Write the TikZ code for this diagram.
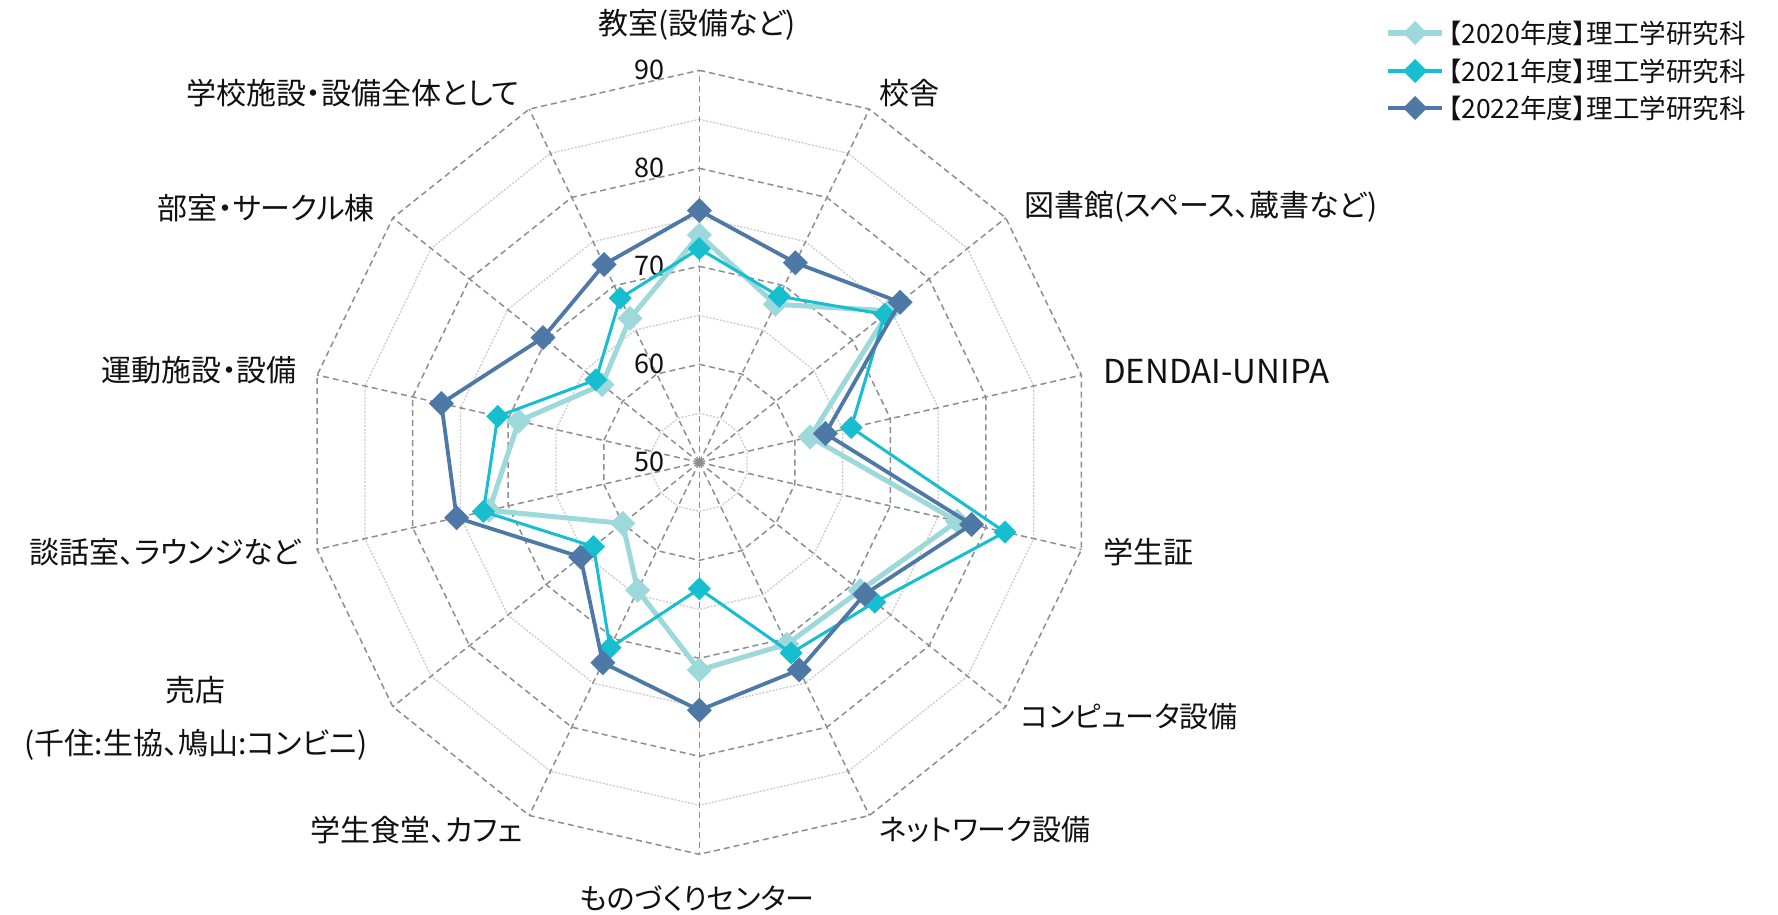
\documentclass[tikz,border=0pt]{standalone}
\usepackage{fontspec}
\setmainfont{Noto Sans CJK JP}[RawFeature={+palt}]
\usetikzlibrary{calc}
\definecolor{cA}{HTML}{9DD9DB}
\definecolor{cB}{HTML}{17BECF}
\definecolor{cC}{HTML}{4E79A7}
\definecolor{gridmaj}{HTML}{8E8E8E}
\definecolor{gridmin}{HTML}{CCCCCC}
\definecolor{txt}{HTML}{111111}
\newcommand\mydia[3]{\fill[#1] (#2) +(0,-#3) -- +(#3,0) -- +(0,#3) -- +(-#3,0) -- cycle;}
\begin{document}
\begin{tikzpicture}[x=1pt,y=-1pt,
  majgrid/.style={draw=gridmaj, line width=1.5pt, dash pattern=on 6pt off 4pt},
  mingrid/.style={draw=gridmin, line width=1.3pt, dash pattern=on 2pt off 1.5pt},
  lab/.style={text=txt, font=\fontsize{30}{34}\selectfont, inner sep=0pt},
  numlab/.style={text=txt, font=\fontsize{27}{30}\selectfont, inner sep=0pt, anchor=east},
  leglab/.style={text=txt, font=\fontsize{26.5}{30}\selectfont, inner sep=0pt, anchor=west},
  serA/.style={draw=cA, line width=5pt, line join=round},
  serB/.style={draw=cB, line width=3pt, line join=round},
  serC/.style={draw=cC, line width=3.8pt, line join=round}]
\fill[white] (0,0) rectangle (1778,914);
\useasboundingbox (0,0) rectangle (1778,914);
\coordinate (C) at (699.3,462.3);
\foreach \k in {0,...,13}{
  \coordinate (ax\k) at ($(C)+({-90+\k*360/14}:392)$);
}
% minor rings
\foreach \v in {55,65,75,85}{
  \draw[mingrid] ($(C)!{(\v-50)/40}!(ax0)$) \foreach \k in {1,...,13}{ -- ($(C)!{(\v-50)/40}!(ax\k)$) } -- cycle;
}
% major rings
\foreach \v in {60,70,80,90}{
  \draw[majgrid] ($(C)!{(\v-50)/40}!(ax0)$) \foreach \k in {1,...,13}{ -- ($(C)!{(\v-50)/40}!(ax\k)$) } -- cycle;
}
% spokes
\foreach \k in {0,...,13}{ \draw[majgrid] (C) -- (ax\k); }
\fill[gridmaj] (C) circle (4);
% value labels
\node[numlab] (n90) at (665,70) {90};
\node[numlab] (n80) at (665,168) {80};
\node[numlab] (n70) at (665,266) {70};
\node[numlab] (n60) at (665,364) {60};
\node[numlab] (n50) at (665,462) {50};
% data
\foreach \k/\v in {0/73.2,1/67.9,2/74.8,3/61.6,4/77.0,5/71.0,6/70.6,7/71.2,8/64.5,9/60.0,10/72.0,11/68.9,12/62.7,13/66.3}{
  \coordinate (a\k) at ($(C)!{(\v-50)/40}!(ax\k)$);
}
\foreach \k/\v in {0/71.8,1/68.8,2/74.2,3/65.9,4/82.0,5/72.9,6/71.6,7/62.9,8/71.0,9/63.8,10/72.6,11/71.1,12/63.5,13/68.6}{
  \coordinate (b\k) at ($(C)!{(\v-50)/40}!(ax\k)$);
}
\foreach \k/\v in {0/75.7,1/72.6,2/76.2,3/63.2,4/78.5,5/71.6,6/73.5,7/75.3,8/72.7,9/65.5,10/75.4,11/77.0,12/70.4,13/72.4}{
  \coordinate (c\k) at ($(C)!{(\v-50)/40}!(ax\k)$);
}
\draw[serA] (a0) \foreach \k in {1,...,13}{ -- (a\k) } -- cycle;
\foreach \k in {0,...,13}{ \mydia{cA}{a\k}{12.5} }
\draw[serB] (b0) \foreach \k in {1,...,13}{ -- (b\k) } -- cycle;
\foreach \k in {0,...,13}{ \mydia{cB}{b\k}{11.5} }
\draw[serC] (c0) \foreach \k in {1,...,13}{ -- (c\k) } -- cycle;
\foreach \k in {0,...,13}{ \mydia{cC}{c\k}{12.5} }
% axis labels
\node[lab] (l0) at (697,25) {教室(設備など)};
\node[lab, anchor=west] (l1) at (879,93) {校舎};
\node[lab, anchor=west] (l2) at (1024,207) {図書館(スペース、蔵書など)};
\node[lab, anchor=west, font=\fontsize{33}{36}\selectfont] (l3) at (1103,372) {DENDAI-UNIPA};
\node[lab, anchor=west] (l4) at (1103,552) {学生証};
\node[lab, anchor=west, font=\fontsize{29}{34}\selectfont] (l5) at (1021,717) {コンピュータ設備};
\node[lab, anchor=west, font=\fontsize{29}{34}\selectfont] (l6) at (879,830) {ネットワーク設備};
\node[lab, font=\fontsize{29}{34}\selectfont] (l7) at (697,898) {ものづくりセンター};
\node[lab, anchor=east] (l8) at (523,830) {学生食堂、カフェ};
\node[lab, align=center, font=\fontsize{30}{53}\selectfont] (l9) at (196,718.5) {売店\\(千住:生協、鳩山:コンビニ)};
\node[lab, anchor=east] (l10) at (301,552) {談話室、ラウンジなど};
\node[lab, anchor=east] (l11) at (297,370) {運動施設・設備};
\node[lab, anchor=east] (l12) at (375,208) {部室・サークル棟};
\node[lab, anchor=east] (l13) at (520,93) {学校施設・設備全体として};
% legend
\coordinate (gA1) at (1388,33); \coordinate (gA2) at (1442,33); \coordinate (gAm) at (1415,33);
\coordinate (gB1) at (1388,71); \coordinate (gB2) at (1442,71); \coordinate (gBm) at (1415,71);
\coordinate (gC1) at (1388,108); \coordinate (gC2) at (1442,108); \coordinate (gCm) at (1415,108);
\draw[serA, line width=6pt] (gA1) -- (gA2); \mydia{cA}{gAm}{12}
\draw[serB, line width=4pt] (gB1) -- (gB2); \mydia{cB}{gBm}{12}
\draw[serC, line width=4.5pt] (gC1) -- (gC2); \mydia{cC}{gCm}{12}
\node[leglab] (tA) at (1448,33) {【2020年度】理工学研究科};
\node[leglab] (tB) at (1448,71) {【2021年度】理工学研究科};
\node[leglab] (tC) at (1448,108) {【2022年度】理工学研究科};
\end{tikzpicture}
\end{document}
